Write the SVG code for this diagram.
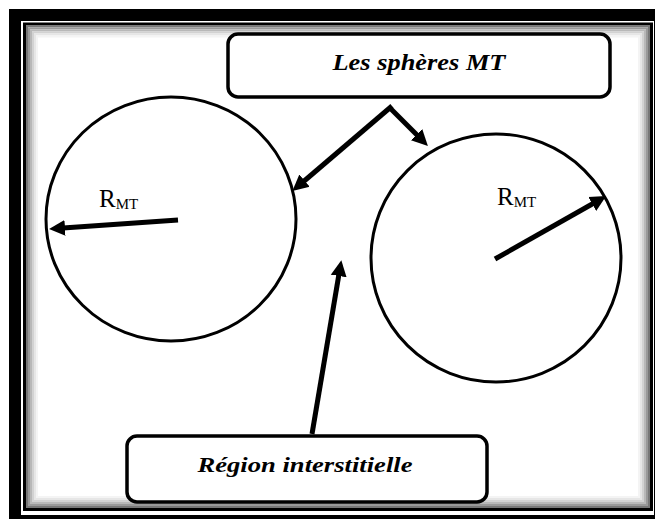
<svg xmlns="http://www.w3.org/2000/svg" width="655" height="519" viewBox="0 0 655 519">
<style>
.box{fill:#fff;stroke:#000;stroke-width:3.5}
.circ{fill:none;stroke:#000;stroke-width:3}
.con{fill:none;stroke:#000;stroke-width:5;stroke-linecap:butt}
.lbl{font-family:"Liberation Serif","DejaVu Serif",serif;font-style:italic;font-weight:bold;fill:#000}
.r{font-family:"Liberation Serif","DejaVu Serif",serif;fill:#000}
</style>
<defs>
<marker id="ah" markerUnits="userSpaceOnUse" markerWidth="20" markerHeight="20" refX="2" refY="8" orient="auto" viewBox="0 0 20 16">
<path d="M0,0 L16,8 L0,16 Z" fill="#000"/>
</marker>
</defs>
<g id="frame">
<rect x="0" y="0" width="655" height="519" fill="#fff"/>
<rect x="15" y="15" width="645" height="506" fill="none" stroke="#000" stroke-width="12"/>
<rect x="24.5" y="24" width="627" height="485.5" fill="#fff" stroke="#000" stroke-width="3"/>
<rect x="27" y="26.5" width="622" height="480.5" fill="none" stroke="#777" stroke-width="2"/>
<rect x="29" y="28.5" width="618" height="476.5" fill="none" stroke="#999" stroke-width="2"/>
<rect x="31" y="30.5" width="614" height="472.5" fill="none" stroke="#b8b8b8" stroke-width="2"/>
<rect x="33" y="32.5" width="610" height="468.5" fill="none" stroke="#d2d2d2" stroke-width="2"/>
<rect x="35" y="34.5" width="606" height="464.5" fill="none" stroke="#e6e6e6" stroke-width="2"/>
<rect x="37" y="36.5" width="602" height="460.5" fill="none" stroke="#f4f4f4" stroke-width="2"/>
</g>
<g id="sphere-left">
<ellipse class="circ" cx="171" cy="219" rx="125" ry="122"/>
<text class="r" x="99" y="207" font-size="25">R<tspan font-size="15" dy="2">MT</tspan></text>
</g>
<g id="sphere-right">
<ellipse class="circ" cx="496" cy="258" rx="125" ry="124"/>
<text class="r" x="497" y="205" font-size="25">R<tspan font-size="15" dy="2">MT</tspan></text>
</g>
<g id="box-spheres">
<rect class="box" x="228" y="34" width="382" height="63" rx="10"/>
<text class="lbl" x="419" y="70" font-size="23" text-anchor="middle" textLength="173" lengthAdjust="spacingAndGlyphs">Les sphères MT</text>
</g>
<g id="box-region">
<rect class="box" x="127" y="436" width="360" height="66" rx="10"/>
<text class="lbl" x="305" y="472" font-size="22" text-anchor="middle" textLength="215" lengthAdjust="spacingAndGlyphs">Région interstitielle</text>
</g>
<g id="connectors">
<polyline class="con" points="390,108 418,136" marker-end="url(#ah)"/>
<line class="con" x1="392" y1="106" x2="303" y2="182" marker-end="url(#ah)"/>
<line class="con" x1="312" y1="434" x2="339" y2="274" marker-end="url(#ah)"/>
<line class="con" x1="178" y1="220" x2="63" y2="228" marker-end="url(#ah)"/>
<line class="con" x1="495" y1="259" x2="594" y2="203" marker-end="url(#ah)"/>
</g>
</svg>
